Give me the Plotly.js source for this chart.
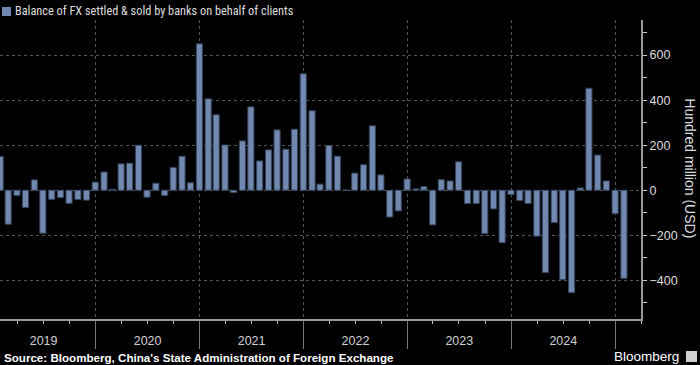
<!DOCTYPE html>
<html>
<head>
<meta charset="utf-8">
<script src="https://cdn.plot.ly/plotly-3.0.1.min.js"></script>
<style>
  html, body { margin: 0; padding: 0; background: #000; }
  #chart { width: 700px; height: 365px; }
</style>
</head>
<body>
<div id="chart"></div>
<script>
// Balance of FX settled & sold by banks on behalf of clients (hundred million USD), monthly
const years = [2019, 2020, 2021, 2022, 2023, 2024, 2025];
const values2019 = [150, -151, -24, -77, 46, -191, -41, -33, -58, -41, -44, 36];
const values2020 = [81, 4, 117, 120, 200, -31, 31, -24, 101, 151, 33, 650];
const values2021 = [406, 335, 201, -10, 219, 370, 130, 179, 268, 182, 271, 517];
const values2022 = [353, 27, 199, 151, 1, 76, 113, 286, 68, -119, -92, 50];
const values2023 = [6, 16, -154, 47, 41, 126, -59, -59, -193, -83, -233, -19];
const values2024 = [-46, -59, -204, -366, -144, -397, -455, 10, 453, 156, 41, -104];
const values2025 = [-391];
const yearTickLabels = ['2019', '2020', '2021', '2022', '2023', '2024'];

const seriesName = 'Balance of FX settled & sold by banks on behalf of clients';
const yTitle = 'Hundred million (USD)';
const sourceText = 'Source: Bloomberg, China\'s State Administration of Foreign Exchange';

const perYear = [values2019, values2020, values2021, values2022, values2023, values2024, values2025];
const x = [], y = [];
function pad(n) { return (n < 10 ? '0' : '') + n; }
perYear.forEach((vals, i) => {
  vals.forEach((v, m) => {
    const d = new Date(Date.UTC(years[i], m + 1, 0));
    x.push(d.getUTCFullYear() + '-' + pad(d.getUTCMonth() + 1) + '-' + pad(d.getUTCDate()));
    y.push(v);
  });
});

const barColor = '#7189b0';
const NARROW = '"Liberation Sans Narrow", "Roboto Condensed", "Liberation Sans", Arial, sans-serif';
const REG = '"Liberation Sans", Arial, sans-serif';
const DAY = 86400000;

const trace = {
  type: 'bar',
  x: x,
  y: y,
  width: x.map(() => 21.5 * DAY),
  marker: { color: barColor, line: { color: '#34445c', width: 1 } },
  name: seriesName,
  showlegend: false,
  hoverinfo: 'x+y'
};

const layout = {
  width: 700,
  height: 365,
  margin: { l: 0, r: 59, t: 20, b: 46, pad: 0 },
  paper_bgcolor: '#000',
  plot_bgcolor: '#000',
  font: { family: REG, color: '#dddddd', size: 13 },
  bargap: 0,
  xaxis: {
    type: 'date',
    range: ['2019-01-30 08:00', '2025-04-01'],
    tick0: yearTickLabels[0] + '-01-01',
    dtick: 'M12',
    tickformat: '%Y',
    ticklabelmode: 'period',
    ticks: 'outside',
    ticklen: 28,
    tickcolor: '#777',
    tickwidth: 1,
    ticklabelstandoff: -19,
    tickfont: { size: 12.5, color: '#d0d0d0', family: REG },
    showgrid: true,
    gridcolor: '#555',
    griddash: 'dot',
    gridwidth: 1,
    showline: true,
    linecolor: '#9a9a9a',
    linewidth: 1.5,
    zeroline: false,
    minor: { dtick: 'M3', tick0: '2019-01-01', ticks: 'outside', ticklen: 3, tickcolor: '#bbb', showgrid: false },
    fixedrange: true
  },
  yaxis: {
    side: 'right',
    range: [-572, 756],
    tick0: 0,
    dtick: 200,
    ticks: 'outside',
    ticklen: 4,
    tickcolor: '#ccc',
    tickfont: { size: 12.5, color: '#dddddd', family: REG },
    showgrid: true,
    gridcolor: '#555',
    griddash: 'dot',
    gridwidth: 1,
    zeroline: false,
    showline: true,
    linecolor: '#9a9a9a',
    linewidth: 2,
    minor: { dtick: 100, ticks: 'outside', ticklen: 4, tickcolor: '#ccc', showgrid: false },
    fixedrange: true
  },
  shapes: [
    { type: 'rect', xref: 'paper', yref: 'paper',
      x0: 2 / 641, x1: 11 / 641, y0: (319 - 16) / 299, y1: (319 - 7) / 299,
      fillcolor: barColor, line: { width: 0 } },
    // small Bloomberg logo badge
    { type: 'rect', xref: 'paper', yref: 'paper',
      x0: 686 / 641, x1: 697 / 641, y0: (319 - 362) / 299, y1: (319 - 351) / 299,
      fillcolor: '#cfcfcf', line: { width: 0 } }
  ],
  annotations: [
    { xref: 'paper', yref: 'paper', x: 13 / 641, y: (319 - 11.5) / 299,
      xanchor: 'left', yanchor: 'middle', showarrow: false,
      text: seriesName, font: { size: 12.3, color: '#dddddd', family: NARROW } },
    { xref: 'paper', yref: 'paper', x: 1.076, y: 0.505,
      xanchor: 'center', yanchor: 'middle', showarrow: false, textangle: 90,
      text: yTitle, font: { size: 14, color: '#dddddd', family: REG } },
    { xref: 'paper', yref: 'paper', x: 2 / 641, y: (319 - 357) / 299,
      xanchor: 'left', yanchor: 'middle', showarrow: false,
      text: '<b>' + sourceText + '</b>', font: { size: 11.6, color: '#ffffff', family: REG } },
    { xref: 'paper', yref: 'paper', x: 681 / 641, y: (319 - 356) / 299,
      xanchor: 'right', yanchor: 'middle', showarrow: false,
      text: 'Bloomberg', font: { size: 13.5, color: '#ffffff', family: REG } }
  ]
};

Plotly.newPlot('chart', [trace], layout, { displayModeBar: false, staticPlot: true });
</script>
</body>
</html>
